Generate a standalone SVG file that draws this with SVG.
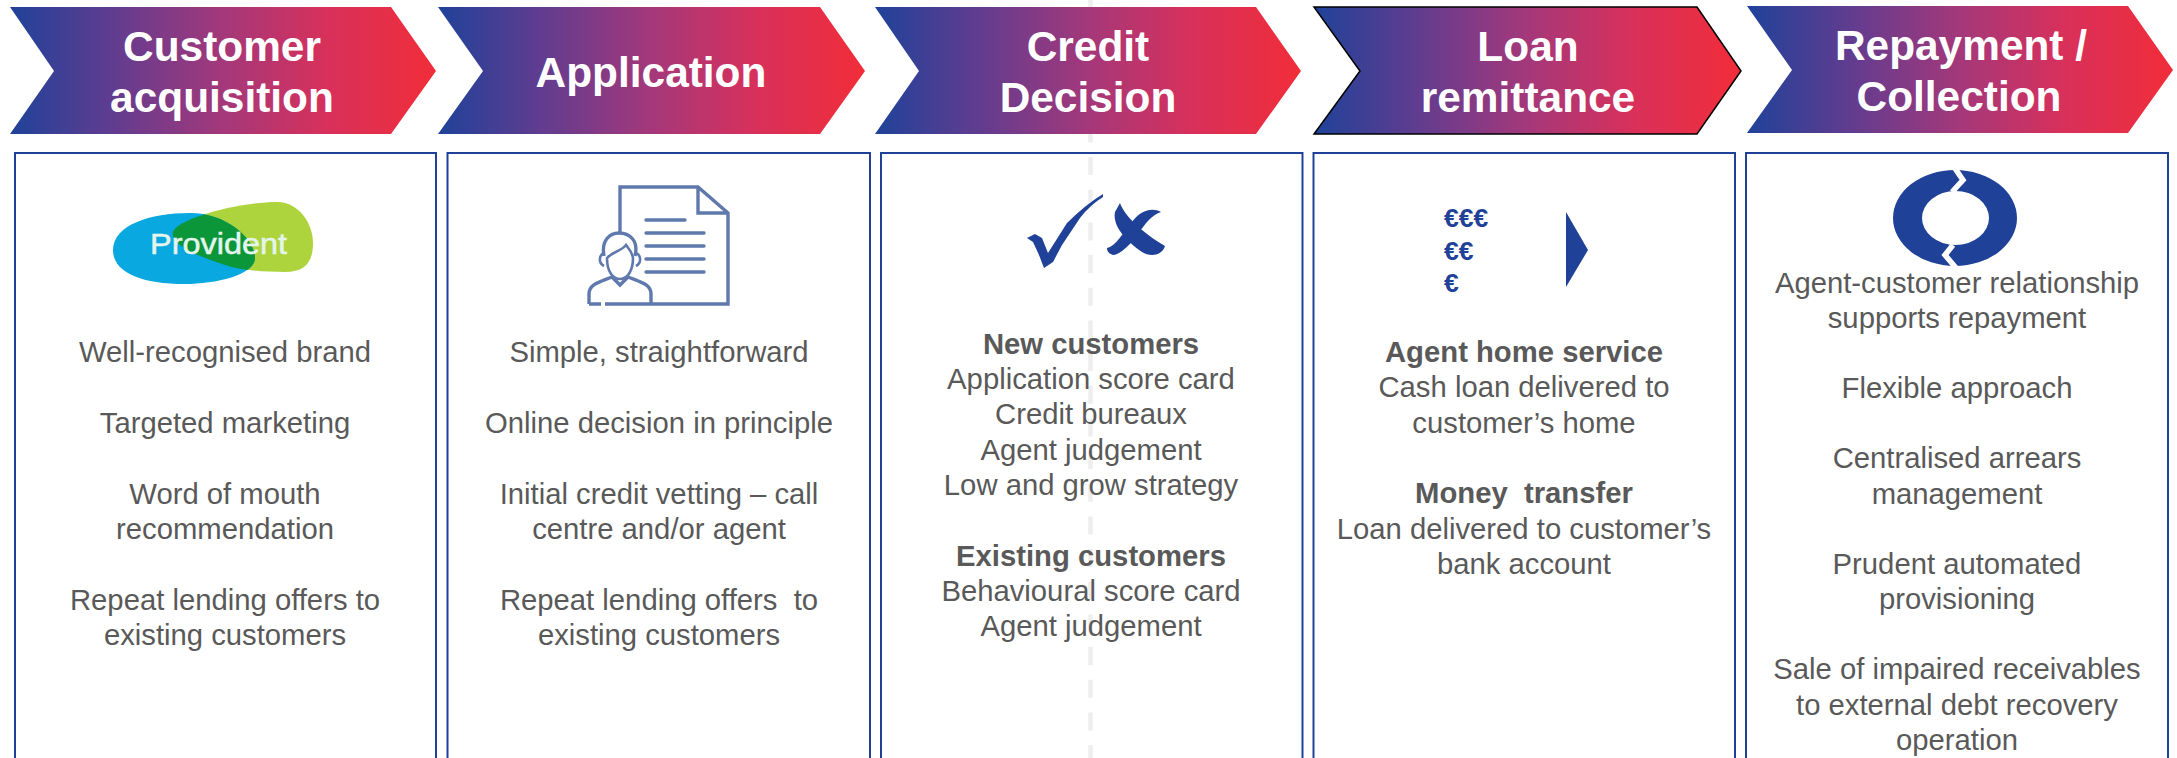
<svg xmlns="http://www.w3.org/2000/svg" width="2177" height="758" viewBox="0 0 2177 758">
<style>
.title{font:bold 42.400px "Liberation Sans",Arial,sans-serif;fill:#fff;text-anchor:middle}
.body{font:29.250px "Liberation Sans",Arial,sans-serif;fill:#595959;text-anchor:middle;white-space:pre}
.b{font-weight:bold}
.box{fill:none;stroke:#1f4298;stroke-width:2}
.blue{fill:#1f4298}
.ico{fill:none;stroke:#5f79ad;stroke-width:3.400}
.euro{font:bold 26.500px "Liberation Sans",Arial,sans-serif;fill:#1f4298}
</style>
<defs>
<linearGradient id="g"><stop offset="0" stop-color="#1f4299"/><stop offset="0.25" stop-color="#633c8f"/><stop offset="0.5" stop-color="#a4387a"/><stop offset="0.75" stop-color="#d9305a"/><stop offset="1" stop-color="#f12d39"/></linearGradient>
<clipPath id="blueClip"><path id="bluePath" d="M113 250C113 225 150 213 190 213C228 213 255 240 255 258C255 275 215 284 185 284C140 284 113 272 113 250Z"/></clipPath>
</defs>
<rect width="2177" height="758" fill="#fff"/>
<path d="M1090.500 -6.300V758" fill="none" stroke="#eeeeee" stroke-width="4.500" stroke-dasharray="18 14.670"/>
<g id="stage-customer-acquisition">
<path d="M10 7H391L436 71L391 134H10L54 71Z" fill="url(#g)"/>
<text class="title" x="222" y="61">Customer</text><text class="title" x="222" y="112">acquisition</text>
<rect class="box" x="15" y="153" width="421" height="620"/>
<g id="provident-logo">
<path d="M173 232C178 218 240 202 277 202C300 202 313 225 313 243C313 262 305 272 285 272C262 272 240 270 225 265C195 255 170 245 173 232Z" fill="#add43d"/>
<path d="M113 250C113 225 150 213 190 213C228 213 255 240 255 258C255 275 215 284 185 284C140 284 113 272 113 250Z" fill="#0aa8e0"/>
<path clip-path="url(#blueClip)" d="M173 232C178 218 240 202 277 202C300 202 313 225 313 243C313 262 305 272 285 272C262 272 240 270 225 265C195 255 170 245 173 232Z" fill="#0a9639"/>
<text x="150" y="254" font-family="Liberation Sans,Arial,sans-serif" font-size="29" fill="#e4f5ee" stroke="#e4f5ee" stroke-width="0.500" textLength="137" lengthAdjust="spacingAndGlyphs">Provident</text>
</g>
<text class="body" x="225" y="362">Well-recognised brand</text>
<text class="body" x="225" y="433">Targeted marketing</text>
<text class="body" x="225" y="504">Word of mouth</text>
<text class="body" x="225" y="539">recommendation</text>
<text class="body" x="225" y="610">Repeat lending offers to</text>
<text class="body" x="225" y="645">existing customers</text>
</g>
<g id="stage-application">
<path d="M438 7H820L865 71L820 134H438L483 71Z" fill="url(#g)"/>
<text class="title" x="651" y="87">Application</text>
<rect class="box" x="447.500" y="153" width="422.500" height="620"/>
<g id="agent-document-icon" class="ico">
<path d="M620 233V187H698L728 213V304H605M698 187V213H728"/>
<path d="M646 220H685M646 233H704M646 246H704M646 259H704M646 272H704" stroke-linecap="round"/>
<path d="M604 256C601 240 610 233 619 233C629 233 639 240 635 256"/>
<path d="M607 258C607 272 613 279 620 279C628 279 633 270 633 258C632 251 628 248 626 245C620 252 612 252 607 258Z" stroke-width="2.600"/>
<path d="M604 253C599 255 598 263 604 266M636 253C641 255 642 263 636 266" stroke-width="2.600"/>
<path d="M589 304V294C589 284 600 282 612 277L620 285L628 277C640 282 651 284 651 294V304M589 304H601"/>
</g>
<text class="body" x="659" y="362">Simple, straightforward</text>
<text class="body" x="659" y="433">Online decision in principle</text>
<text class="body" x="659" y="504">Initial credit vetting – call</text>
<text class="body" x="659" y="539">centre and/or agent</text>
<text class="body" x="659" y="610">Repeat lending offers  to</text>
<text class="body" x="659" y="645">existing customers</text>
</g>
<g id="stage-credit-decision">
<path d="M875 7H1256L1301 71L1256 134H875L919 71Z" fill="url(#g)"/>
<text class="title" x="1088" y="61">Credit</text><text class="title" x="1088" y="112">Decision</text>
<rect class="box" x="881" y="153" width="421.500" height="620"/>
<g id="check-cross-icon" class="blue">
<path d="M1027 238L1035 234L1042 238L1048 253L1067 223Q1085 205 1103 194V197Q1090 205 1080 218L1062 245L1053 262L1044 268L1039 255L1033 242Z"/>
<path d="M1120 203C1125 217 1143 233 1165 246C1162 256 1150 257 1142 252C1128 242 1112 227 1115 212Z"/>
<path d="M1161 212C1147 217 1140 233 1132 242C1125 249 1118 255 1113 255C1110 254 1107 252 1107 248C1115 247 1123 233 1132 222C1140 210 1153 207 1161 212Z"/>
</g>
<text class="body b" x="1091" y="354">New customers</text>
<text class="body" x="1091" y="389">Application score card</text>
<text class="body" x="1091" y="424">Credit bureaux</text>
<text class="body" x="1091" y="460">Agent judgement</text>
<text class="body" x="1091" y="495">Low and grow strategy</text>
<text class="body b" x="1091" y="566">Existing customers</text>
<text class="body" x="1091" y="601">Behavioural score card</text>
<text class="body" x="1091" y="636">Agent judgement</text>
</g>
<g id="stage-loan-remittance">
<path d="M1314 7H1697L1741 71L1697 134H1314L1360 71Z" fill="url(#g)" stroke="#000" stroke-width="1.500"/>
<text class="title" x="1528" y="61">Loan</text><text class="title" x="1528" y="112">remittance</text>
<rect class="box" x="1313.500" y="153" width="421.500" height="620"/>
<g id="euro-icon">
<text class="euro" x="1444" y="227">€€€</text><text class="euro" x="1444" y="260">€€</text><text class="euro" x="1444" y="292">€</text>
<path class="blue" d="M1566 212L1588 250L1566 287Z"/>
</g>
<text class="body b" x="1524" y="362">Agent home service</text>
<text class="body" x="1524" y="397">Cash loan delivered to</text>
<text class="body" x="1524" y="433">customer’s home</text>
<text class="body b" x="1524" y="503">Money  transfer</text>
<text class="body" x="1524" y="539">Loan delivered to customer’s</text>
<text class="body" x="1524" y="574">bank account</text>
</g>
<g id="stage-repayment-collection">
<path d="M1747 6H2128L2173 70L2128 133H1747L1792 70Z" fill="url(#g)"/>
<text class="title" x="1961" y="60">Repayment /</text><text class="title" x="1959" y="111">Collection</text>
<rect class="box" x="1746" y="153" width="422" height="620"/>
<g id="cycle-icon">
<path class="blue" fill-rule="evenodd" d="M1893 218A62 48 0 1 1 2017 218A62 48 0 1 1 1893 218ZM1922 218A33.500 27 0 1 0 1989 218A33.500 27 0 1 0 1922 218Z"/>
<path d="M1954 167L1963 180L1952 192M1953 245L1945 255L1956 268" fill="none" stroke="#fff" stroke-width="5.500"/>
</g>
<text class="body" x="1957" y="293">Agent-customer relationship</text>
<text class="body" x="1957" y="328">supports repayment</text>
<text class="body" x="1957" y="398">Flexible approach</text>
<text class="body" x="1957" y="468">Centralised arrears</text>
<text class="body" x="1957" y="504">management</text>
<text class="body" x="1957" y="574">Prudent automated</text>
<text class="body" x="1957" y="609">provisioning</text>
<text class="body" x="1957" y="679">Sale of impaired receivables</text>
<text class="body" x="1957" y="715">to external debt recovery</text>
<text class="body" x="1957" y="750">operation</text>
</g>
</svg>
